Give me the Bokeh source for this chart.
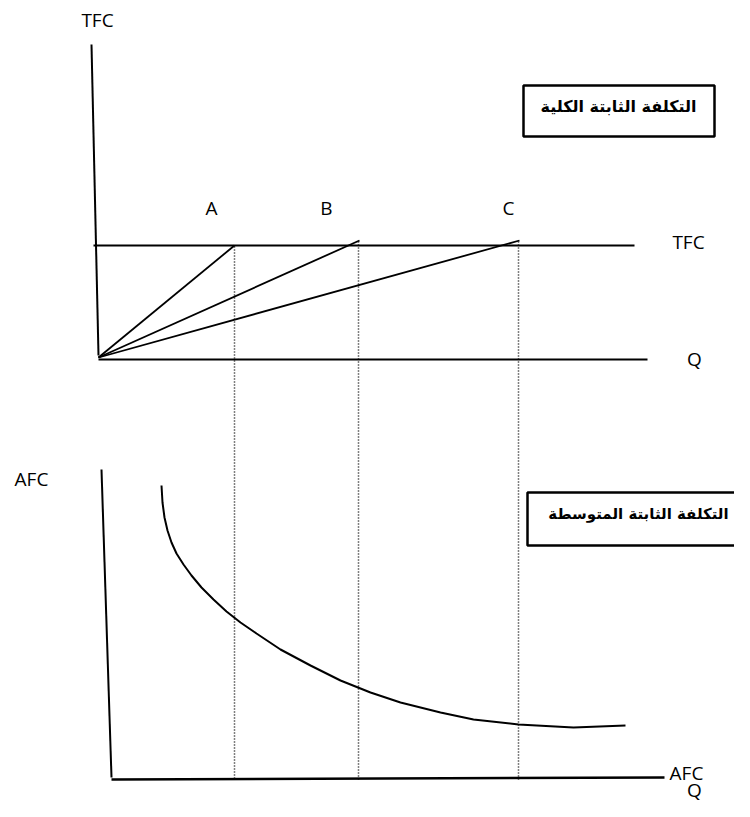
from bokeh.plotting import figure
from bokeh.models import Range1d
from bokeh.core.properties import value
from bokeh.embed import file_html
from bokeh.resources import INLINE

# ---- diagram data (page-pixel coordinate system) ----
# top panel: total fixed cost
tfc_vaxis_x = [91, 98]
tfc_vaxis_y = [44, 355]
top_qaxis_x = [98, 647]
top_qaxis_y = [359, 359]
tfc_line_x = [93, 634]
tfc_line_y = [245, 245]
origin_x = 98
origin_y = 357
ray_end_x = [234, 359, 519]
ray_end_y = [245, 240, 240]
point_labels = ["A", "B", "C"]
point_label_x = [211, 326, 508]
point_label_y = [207, 207, 207]

# dotted drop lines
drop_x = [234, 358, 518]
drop_top_y = [246, 241, 241]
drop_bottom_y = [780, 780, 780]

# bottom panel: average fixed cost
afc_vaxis_x = [101, 111]
afc_vaxis_y = [469, 777]
bot_qaxis_x = [111, 664]
bot_qaxis_y = [779, 777]
afc_curve_x = [161, 162, 164, 167, 171, 176, 183, 191, 201, 213, 226, 240, 256, 280, 310, 340, 370, 400, 440, 473, 518, 573, 625]
afc_curve_y = [485, 502, 517, 530, 542, 553, 564, 575, 587, 599, 611, 622, 633, 649, 665, 680, 692, 702, 712, 719, 724, 727, 725]

# axis labels
axis_labels = ["TFC", "TFC", "Q", "AFC", "AFC", "Q"]
axis_label_x = [97, 688, 694, 31, 686, 694]
axis_label_y = [19, 241, 358, 478, 772, 789]

# titled boxes
box_titles = ["التكلفة الثابتة الكلية", "التكلفة الثابتة المتوسطة"]
box_left = [523, 527]
box_right = [714, 760]
box_top = [85, 492]
box_bottom = [136, 545]
box_text_x = [618, 638]
box_text_y = [106, 513]
box_text_size = ["16px", "15px"]

p = figure(width=734, height=801, output_backend="svg", toolbar_location=None,
           x_range=Range1d(0, 734), y_range=Range1d(801, 0), min_border=0)
p.axis.visible = False
p.grid.visible = False
p.outline_line_color = None
p.background_fill_color = "white"
p.border_fill_color = "white"

black = "black"
# axes
p.line(tfc_vaxis_x, tfc_vaxis_y, line_color=black, line_width=2)
p.line(top_qaxis_x, top_qaxis_y, line_color=black, line_width=2)
p.line(tfc_line_x, tfc_line_y, line_color=black, line_width=2)
p.line(afc_vaxis_x, afc_vaxis_y, line_color=black, line_width=2)
p.line(bot_qaxis_x, bot_qaxis_y, line_color=black, line_width=2.5)

# rays from origin
p.segment(x0=[origin_x] * 3, y0=[origin_y] * 3, x1=ray_end_x, y1=ray_end_y,
          line_color=black, line_width=1.8)

# dotted verticals
p.segment(x0=drop_x, y0=drop_top_y, x1=drop_x, y1=drop_bottom_y,
          line_color=black, line_width=1.5, line_dash="1 2")

# AFC curve
p.line(afc_curve_x, afc_curve_y, line_color=black, line_width=2)

# labels
p.text(x=point_label_x, y=point_label_y, text=point_labels, text_align="center",
       text_baseline="middle", text_font=value("Open Sans"), text_font_size="19px",
       text_color=black)
p.text(x=axis_label_x, y=axis_label_y, text=axis_labels, text_align="center",
       text_baseline="middle", text_font=value("Open Sans"), text_font_size="19px",
       text_color=black)

# boxes
p.quad(left=box_left, right=box_right, top=box_top, bottom=box_bottom,
       fill_color=None, line_color=black, line_width=2.5)
p.text(x=box_text_x, y=box_text_y, text=box_titles, text_align="center",
       text_baseline="middle", text_font=value("DejaVu Sans"), text_font_size=box_text_size,
       text_font_style="bold", text_color=black)

open("out.html", "w").write(file_html(p, INLINE))
